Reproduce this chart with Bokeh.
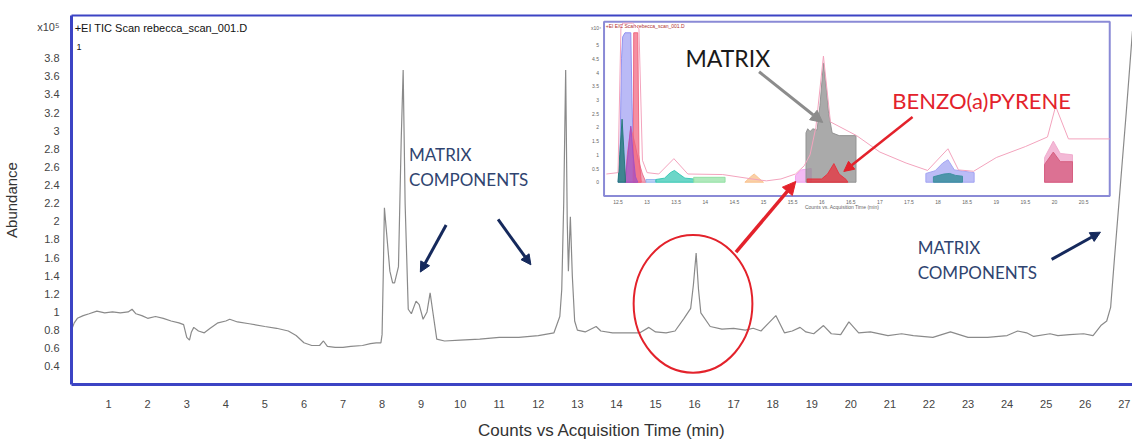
from bokeh.plotting import figure
from bokeh.models import (Range1d, LinearAxis, FixedTicker, Arrow, NormalHead)
from bokeh.core.properties import value
from bokeh.embed import file_html
from bokeh.resources import INLINE

# ---------------- main chromatogram (x10^5 counts) ----------------
TIME_A = [0.05, 0.12, 0.2, 0.35, 0.5, 0.7, 0.9, 1.1, 1.3, 1.5, 1.6, 1.7, 1.85, 2.0, 2.2, 2.4, 2.6, 2.8, 2.92, 3.0,
          3.07, 3.12, 3.18, 3.3, 3.45, 3.6, 3.8, 4.0, 4.1, 4.3, 4.6, 5.0, 5.3, 5.6, 5.8, 6.0, 6.2, 6.4, 6.5, 6.6,
          6.8, 7.0, 7.2, 7.5, 7.7, 7.85, 7.97]
ABUND_A = [0.80, 0.88, 0.93, 0.96, 0.98, 1.01, 0.99, 1.00, 0.99, 1.00, 1.03, 0.98, 0.96, 0.93, 0.95, 0.93, 0.90, 0.88, 0.86, 0.72,
           0.69, 0.78, 0.83, 0.79, 0.77, 0.82, 0.88, 0.90, 0.92, 0.89, 0.87, 0.84, 0.82, 0.79, 0.74, 0.66, 0.63, 0.63, 0.68, 0.62,
           0.61, 0.61, 0.62, 0.63, 0.65, 0.66, 0.66]
TIME_B = [8.0, 8.03, 8.06, 8.12, 8.2, 8.27, 8.32, 8.42, 8.49, 8.54, 8.59, 8.67, 8.75, 8.87, 8.95, 9.05, 9.15, 9.23, 9.3, 9.4,
          9.6, 10.0, 10.5, 11.0, 11.5, 12.0, 12.4, 12.55, 12.6, 12.65, 12.7, 12.74, 12.77, 12.82, 12.87, 12.93, 13.0, 13.2, 13.48, 13.6]
ABUND_B = [0.75, 1.40, 2.15, 1.85, 1.45, 1.32, 1.32, 1.50, 2.90, 3.67, 2.20, 1.03, 0.98, 1.12, 1.08, 0.92, 1.00, 1.21, 1.00, 0.70,
           0.68, 0.69, 0.70, 0.72, 0.72, 0.74, 0.77, 0.95, 1.25, 2.20, 3.67, 2.00, 1.45, 2.05, 1.40, 0.90, 0.80, 0.78, 0.84, 0.79]
TIME_C = [13.9, 14.3, 14.6, 14.83, 15.0, 15.27, 15.5, 15.73, 15.9, 15.97, 16.04, 16.1, 16.16, 16.4, 16.7, 17.0, 17.3, 17.5, 17.7, 17.9,
          18.08, 18.3, 18.5, 18.7, 18.85, 19.05, 19.3, 19.5, 19.74, 19.95, 20.2, 20.5, 20.95, 21.3, 21.6, 22.1, 22.55, 23.0, 23.5, 24.0,
          24.27, 24.5, 24.68, 25.1, 25.3, 25.6, 25.96, 26.2, 26.4, 26.55, 26.65, 26.75, 26.9, 27.05, 27.21]
ABUND_C = [0.77, 0.77, 0.77, 0.83, 0.78, 0.77, 0.79, 0.93, 1.04, 1.30, 1.65, 1.25, 0.99, 0.84, 0.81, 0.82, 0.80, 0.82, 0.79, 0.88,
           0.96, 0.77, 0.79, 0.83, 0.78, 0.76, 0.85, 0.76, 0.75, 0.89, 0.77, 0.78, 0.74, 0.76, 0.74, 0.72, 0.78, 0.72, 0.72, 0.74,
           0.79, 0.77, 0.73, 0.76, 0.74, 0.75, 0.76, 0.74, 0.85, 0.90, 1.05, 1.60, 2.40, 3.20, 4.10]

X_TICKS = [1, 2, 3, 4, 5, 6, 7, 8, 9, 10, 11, 12, 13, 14, 15, 16, 17, 18, 19, 20, 21, 22, 23, 24, 25, 26, 27]
X_TICK_LABELS = ["1", "2", "3", "4", "5", "6", "7", "8", "9", "10", "11", "12", "13", "14", "15", "16", "17",
                 "18", "19", "20", "21", "22", "23", "24", "25", "26", "27"]
Y_TICKS = [0.4, 0.6, 0.8, 1.0, 1.2, 1.4, 1.6, 1.8, 2.0, 2.2, 2.4, 2.6, 2.8, 3.0, 3.2, 3.4, 3.6, 3.8]
Y_TICK_LABELS = ["0.4", "0.6", "0.8", "1", "1.2", "1.4", "1.6", "1.8", "2", "2.2", "2.4", "2.6", "2.8", "3",
                 "3.2", "3.4", "3.6", "3.8"]
Y_EXPONENT_AT = [4.14]
Y_EXPONENT_LABEL = ["x10\u2075"]

# ---------------- inset: extracted ion chromatograms (x10^4) ----------------
INSET_BLUE_T = [12.50, 12.53, 12.56, 12.58, 12.62, 12.72, 12.74, 12.77, 12.80]
INSET_BLUE_Y = [0.0, 0.5, 4.5, 5.3, 5.45, 5.45, 3.0, 0.5, 0.0]
INSET_PINK_T = [12.62, 12.66, 12.72, 12.78, 12.85, 12.92, 12.98]
INSET_PINK_Y = [0.0, 1.0, 2.0, 1.5, 0.8, 0.3, 0.0]
INSET_RED_T = [12.76, 12.77, 12.84, 12.86, 12.90]
INSET_RED_Y = [0.0, 5.45, 5.45, 1.0, 0.0]
INSET_PURPLE_T = [12.62, 12.67, 12.72, 12.76, 12.80, 12.84]
INSET_PURPLE_Y = [0.0, 1.0, 2.05, 1.0, 0.2, 0.0]
INSET_TEAL_T = [12.50, 12.53, 12.57, 12.60, 12.63]
INSET_TEAL_Y = [0.0, 1.0, 2.3, 1.2, 0.0]
INSET_SKY_T = [12.98, 12.98, 13.15, 13.15]
INSET_SKY_Y = [0.0, 0.1, 0.1, 0.0]
INSET_CYAN_T = [13.15, 13.15, 13.30, 13.40, 13.47, 13.55, 13.65, 13.80, 13.80]
INSET_CYAN_Y = [0.0, 0.10, 0.15, 0.35, 0.43, 0.30, 0.15, 0.12, 0.0]
INSET_GREEN_T = [13.80, 13.80, 14.34, 14.34]
INSET_GREEN_Y = [0.0, 0.18, 0.18, 0.0]
INSET_ORANGE_T = [14.68, 14.78, 14.84, 14.92, 15.00]
INSET_ORANGE_Y = [0.0, 0.20, 0.30, 0.15, 0.0]
INSET_MAGENTA_T = [15.55, 15.55, 15.65, 15.82, 15.82]
INSET_MAGENTA_Y = [0.0, 0.25, 0.45, 0.50, 0.0]
INSET_GRAY_T = [15.73, 15.73, 15.76, 15.80, 15.85, 15.92, 15.97, 16.03, 16.08, 16.12, 16.18, 16.30, 16.59, 16.59]
INSET_GRAY_Y = [0.0, 1.80, 1.95, 1.85, 1.95, 1.90, 2.80, 4.35, 3.40, 2.50, 1.80, 1.70, 1.70, 0.0]
INSET_BAP_T = [15.75, 15.75, 16.00, 16.10, 16.21, 16.30, 16.42, 16.45]
INSET_BAP_Y = [0.0, 0.12, 0.12, 0.30, 0.68, 0.30, 0.10, 0.0]
INSET_LAV_T = [17.79, 17.79, 17.95, 18.08, 18.17, 18.28, 18.62, 18.62]
INSET_LAV_Y = [0.0, 0.32, 0.42, 0.70, 0.82, 0.45, 0.35, 0.0]
INSET_DTEAL_T = [17.92, 17.92, 18.10, 18.20, 18.30, 18.42, 18.42]
INSET_DTEAL_Y = [0.0, 0.20, 0.30, 0.32, 0.25, 0.22, 0.0]
INSET_LPINK_T = [19.83, 19.83, 19.98, 20.10, 20.31, 20.31]
INSET_LPINK_Y = [0.0, 0.90, 1.50, 1.05, 1.00, 0.0]
INSET_DPINK_T = [19.83, 19.83, 19.98, 20.10, 20.31, 20.31]
INSET_DPINK_Y = [0.0, 0.65, 1.10, 0.75, 0.75, 0.0]
INSET_TIC_T = [12.30, 12.50, 12.55, 12.58, 12.75, 12.86, 12.92, 13.0, 13.2, 13.46, 13.7, 14.3, 14.8, 15.05, 15.3, 15.55,
               15.7, 15.8, 15.9, 16.03, 16.15, 16.6, 17.0, 17.45, 17.82, 18.17, 18.35, 18.61, 19.0, 19.5, 19.88, 20.02,
               20.24, 20.95]
INSET_TIC_Y = [0.3, 0.35, 5.6, 5.8, 5.8, 5.6, 0.8, 0.35, 0.3, 0.86, 0.3, 0.28, 0.12, 0.05, 0.12, 0.3,
               0.6, 1.0, 2.0, 4.6, 2.2, 1.7, 1.1, 0.7, 0.43, 1.22, 0.45, 0.40, 0.9, 1.3, 1.65, 2.77,
               1.58, 1.58]
INSET_X_TICKS = [12.5, 13, 13.5, 14, 14.5, 15, 15.5, 16, 16.5, 17, 17.5, 18, 18.5, 19, 19.5, 20, 20.5]
INSET_X_LABELS = ["12.5", "13", "13.5", "14", "14.5", "15", "15.5", "16", "16.5", "17", "17.5", "18", "18.5",
                  "19", "19.5", "20", "20.5"]
INSET_Y_TICKS = [0, 0.5, 1, 1.5, 2, 2.5, 3, 3.5, 4, 4.5, 5]
INSET_Y_LABELS = ["0", "0.5", "1", "1.5", "2", "2.5", "3", "3.5", "4", "4.5", "5"]

# ---------------- styling / layout ----------------
BLUE = "#3c44c4"
NAVY = "#15295c"
NAVY_TXT = "#2f4470"
RED = "#e3222b"
FONT = "Liberation Sans"
CAL = "Lato"

X_RANGE = (0.05, 27.21)
Y_RANGE = (0.2, 4.27)
INSET_XR = (3.109, 21.341)     # inset scale mapped onto the frame
INSET_YR = (-7.374, 6.079)
INSET_BOX = (12.26, 20.95, -0.5, 5.85)

p = figure(width=1132, height=442, output_backend="svg", toolbar_location=None,
           x_range=Range1d(*X_RANGE), y_range=Range1d(*Y_RANGE),
           min_border_left=70, min_border_right=0, min_border_top=15, min_border_bottom=53,
           background_fill_color="white", border_fill_color="white")
p.extra_x_ranges = {"ix": Range1d(*INSET_XR)}
p.extra_y_ranges = {"iy": Range1d(*INSET_YR)}
p.grid.visible = False
p.outline_line_color = None

# axes
xa = p.xaxis[0]
xa.ticker = FixedTicker(ticks=X_TICKS)
xa.major_label_overrides = dict(zip(X_TICKS, X_TICK_LABELS))
ya = p.yaxis[0]
ya.ticker = FixedTicker(ticks=Y_TICKS + Y_EXPONENT_AT)
ya.major_label_overrides = dict(zip(Y_TICKS + Y_EXPONENT_AT, Y_TICK_LABELS + Y_EXPONENT_LABEL))
for ax in (xa, ya):
    ax.axis_line_color = BLUE
    ax.axis_line_width = 3
    ax.major_tick_line_color = None
    ax.minor_tick_line_color = None
    ax.major_label_text_font = FONT
    ax.major_label_text_font_size = "11px"
    ax.major_label_text_color = "#444444"
    ax.axis_label_text_font = FONT
    ax.axis_label_text_font_style = "normal"
    ax.axis_label_text_color = "#333333"
xa.major_label_standoff = 9
ya.major_label_standoff = 6
xa.axis_label = "Counts vs Acquisition Time (min)"
xa.axis_label_text_font_size = "17px"
xa.axis_label_standoff = 10
ya.axis_label = "Abundance"
ya.axis_label_text_font_size = "15px"
ya.axis_label_standoff = 14

top_axis = LinearAxis(ticker=FixedTicker(ticks=[]), axis_line_color=BLUE, axis_line_width=2,
                      major_tick_line_color=None, minor_tick_line_color=None,
                      major_label_text_font_size="0px", major_tick_out=0, major_label_standoff=0)
p.add_layout(top_axis, "above")

# main trace
p.line(TIME_A + TIME_B + TIME_C, ABUND_A + ABUND_B + ABUND_C, line_color="#8a8a8a", line_width=1.2)

# inset box
x0, x1, y0, y1 = INSET_BOX
p.quad(left=[x0], right=[x1], bottom=[y0], top=[y1], x_range_name="ix", y_range_name="iy",
       fill_color="white", line_color="#8a8ad6", line_width=2)

fills = [
    (INSET_BLUE_T, INSET_BLUE_Y, "#8c8cf0", 0.6),
    (INSET_PINK_T, INSET_PINK_Y, "#e86c8c", 0.6),
    (INSET_RED_T, INSET_RED_Y, "#f0607a", 0.7),
    (INSET_PURPLE_T, INSET_PURPLE_Y, "#a050c8", 0.65),
    (INSET_TEAL_T, INSET_TEAL_Y, "#207878", 0.8),
    (INSET_SKY_T, INSET_SKY_Y, "#90b4f0", 0.6),
    (INSET_CYAN_T, INSET_CYAN_Y, "#2ec4b0", 0.7),
    (INSET_GREEN_T, INSET_GREEN_Y, "#8ee0a0", 0.7),
    (INSET_ORANGE_T, INSET_ORANGE_Y, "#f8c08a", 0.75),
    (INSET_MAGENTA_T, INSET_MAGENTA_Y, "#f09cf0", 0.7),
    (INSET_GRAY_T, INSET_GRAY_Y, "#8e8e8e", 0.75),
    (INSET_BAP_T, INSET_BAP_Y, "#e8303c", 0.75),
    (INSET_LAV_T, INSET_LAV_Y, "#9ea0f2", 0.7),
    (INSET_DTEAL_T, INSET_DTEAL_Y, "#3a8e9e", 0.85),
    (INSET_LPINK_T, INSET_LPINK_Y, "#f0a8cc", 0.8),
    (INSET_DPINK_T, INSET_DPINK_Y, "#d45a7c", 0.75),
]
for xs, ys, col, alpha in fills:
    p.patch(xs, ys, x_range_name="ix", y_range_name="iy", fill_color=col, fill_alpha=alpha,
            line_color=col, line_alpha=0.9, line_width=1)
p.line(INSET_TIC_T, INSET_TIC_Y, x_range_name="ix", y_range_name="iy", line_color="#f3a3bd", line_width=1)

# inset tick labels
p.text(x=INSET_X_TICKS, y=[y0] * len(INSET_X_TICKS), text=INSET_X_LABELS, x_range_name="ix", y_range_name="iy",
       text_font=value(FONT), text_font_size="5px", text_color="#666666", text_align="center",
       text_baseline="top", y_offset=4)
p.text(x=[x0] * len(INSET_Y_TICKS), y=INSET_Y_TICKS, text=INSET_Y_LABELS, x_range_name="ix", y_range_name="iy",
       text_font=value(FONT), text_font_size="5px", text_color="#666666", text_align="right",
       text_baseline="middle", x_offset=-5)
p.text(x=[16.35], y=[-0.9], text=["Counts vs. Acquisition Time (min)"], x_range_name="ix", y_range_name="iy",
       text_font=value(FONT), text_font_size="5px", text_color="#666666", text_align="center", text_baseline="middle")
p.text(x=[12.29], y=[5.68], text=["+EI EIC Scan rebecca_scan_001.D"], x_range_name="ix", y_range_name="iy",
       text_font=value(FONT), text_font_size="5px", text_color="#b03030", text_align="left", text_baseline="middle")
p.text(x=[12.21], y=[5.61], text=["x10\u2074"], x_range_name="ix", y_range_name="iy",
       text_font=value(FONT), text_font_size="5px", text_color="#666666", text_align="right", text_baseline="middle")

# ellipse around the benzo(a)pyrene peak
p.ellipse(x=[15.96], y=[1.09], width=[3.04], height=[1.52], fill_color=None, line_color=RED, line_width=2)

# annotation texts
p.text(x=[0.13], y=[4.13], text=["+EI TIC Scan rebecca_scan_001.D"], text_font=value(FONT), text_font_size="11px",
       text_color="#111111", text_align="left", text_baseline="middle")
p.text(x=[0.18], y=[3.92], text=["1"], text_font=value(FONT), text_font_size="9px",
       text_color="#111111", text_align="left", text_baseline="middle")
p.text(x=[8.69, 8.69, 21.71, 21.71], y=[2.74, 2.46, 1.71, 1.44],
       text=["MATRIX", "COMPONENTS", "MATRIX", "COMPONENTS"], text_font=value(CAL), text_font_size="17px",
       text_color=NAVY_TXT, text_align="left", text_baseline="middle")
p.text(x=[16.85], y=[3.80], text=["MATRIX"], text_font=value(CAL), text_font_size="23px",
       text_color="#1a1a1a", text_align="center", text_baseline="middle")
p.text(x=[23.35], y=[3.33], text=["BENZO(a)PYRENE"], text_font=value(CAL), text_font_size="22px",
       text_color=RED, text_align="center", text_baseline="middle")

# arrows
def arrow(xs, ys, xe, ye, color, width, size):
    p.add_layout(Arrow(end=NormalHead(size=size, fill_color=color, line_color=color),
                       x_start=xs, y_start=ys, x_end=xe, y_end=ye, line_color=color, line_width=width))

arrow(9.64, 1.96, 8.98, 1.44, NAVY, 3, 10)
arrow(10.97, 2.02, 11.81, 1.52, NAVY, 3, 10)
arrow(25.14, 1.58, 26.39, 1.88, NAVY, 3, 10)
arrow(17.65, 3.65, 19.28, 3.09, "#8c8c8c", 3, 12)
arrow(21.58, 3.15, 19.82, 2.55, RED, 2.5, 10)
arrow(17.06, 1.66, 18.59, 2.44, RED, 3.5, 13)

open("out.html", "w").write(file_html(p, INLINE))
